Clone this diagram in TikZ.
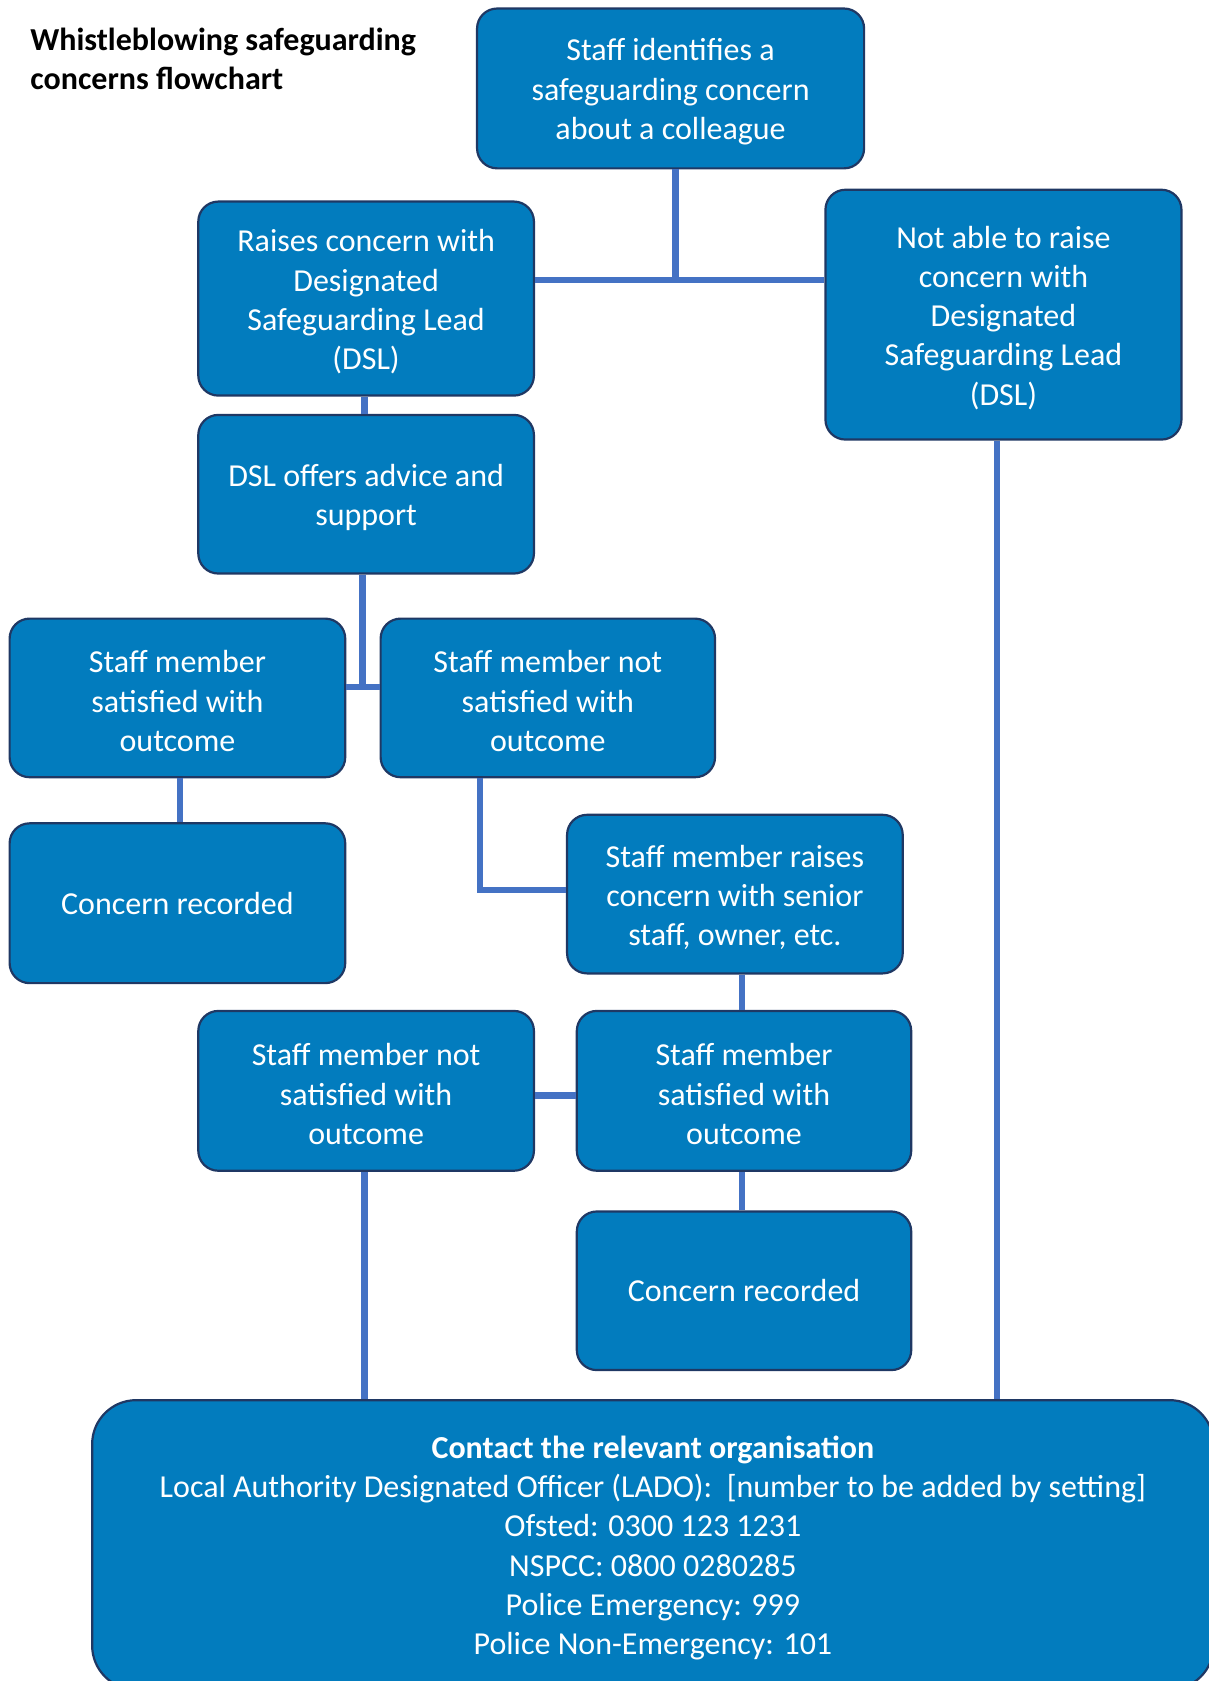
\documentclass[tikz,border=0pt]{standalone}
\usepackage{fontspec}
\setmainfont{Carlito}
\definecolor{boxblue}{HTML}{027CBE}
\definecolor{boxedge}{HTML}{1F3864}
\definecolor{linkblue}{HTML}{4472C4}
\tikzset{
    flowbox/.style={draw=boxedge, line width=1.1pt, fill=boxblue, rounded corners=10pt,
        text=white, align=center, inner sep=0pt, font=\fontsize{16}{19.6}\selectfont},
    textdrop/.style={execute at begin node={\setbox0=\hbox\bgroup},
        execute at end node={\egroup\ht0=\dimexpr\ht0+3.2pt\relax\box0}},
    link/.style={draw=linkblue, line width=3.2pt},
}

\begin{document}
\begin{tikzpicture}[x=0.536pt, y=-0.536pt]
    \useasboundingbox (0,0) rectangle (1127,1568);
    \node[anchor=north west, align=left, inner sep=0pt, font=\fontsize{16}{19.4}\selectfont\bfseries] (title) at (28,26) {Whistleblowing safeguarding\\concerns flowchart};
    % boxes
    \node[flowbox, textdrop, minimum width=193.5pt, minimum height=79.9pt] (identify) at (625.5,82.5) {Staff identifies a\\safeguarding concern\\about a colleague};
    \node[flowbox, textdrop, minimum width=167.8pt, minimum height=97pt] (raise) at (341.5,278.5) {Raises concern with\\Designated\\Safeguarding Lead\\(DSL)};
    \node[flowbox, textdrop, minimum width=178pt, minimum height=124.9pt] (notable) at (936,293.5) {Not able to raise\\concern with\\Designated\\Safeguarding Lead\\(DSL)};
    \node[flowbox, textdrop, minimum width=167.8pt, minimum height=79.3pt] (advice) at (341.5,461) {DSL offers advice and\\support};
    \node[flowbox, textdrop, minimum width=167.8pt, minimum height=79.3pt] (sat) at (165.5,651) {Staff member\\satisfied with\\outcome};
    \node[flowbox, textdrop, minimum width=167.2pt, minimum height=79.3pt] (notsat) at (511,651) {Staff member not\\satisfied with\\outcome};
    \node[flowbox, minimum width=167.8pt, minimum height=79.9pt] (recorded) at (165.5,842.5) {Concern recorded};
    \node[flowbox, textdrop, minimum width=167.8pt, minimum height=79.3pt] (senior) at (685.5,834) {Staff member raises\\concern with senior\\staff, owner, etc.};
    \node[flowbox, textdrop, minimum width=167.8pt, minimum height=79.9pt] (notsattwo) at (341.5,1017.5) {Staff member not\\satisfied with\\outcome};
    \node[flowbox, textdrop, minimum width=167.2pt, minimum height=79.9pt] (sattwo) at (694,1017.5) {Staff member\\satisfied with\\outcome};
    \node[flowbox, minimum width=167.2pt, minimum height=79.3pt] (recordedtwo) at (694,1204) {Concern recorded};
    \node[flowbox, textdrop, rounded corners=22pt, minimum width=560.7pt, minimum height=144.7pt] (contact) at (609,1441) {\textbf{Contact the relevant organisation}\\Local Authority Designated Officer (LADO):\ \ [number to be added by setting]\\Ofsted: 0300 123 1231\\NSPCC: 0800 0280285\\Police Emergency: 999\\Police Non-Emergency: 101};
    % connectors
    \coordinate (split) at (630,261);
    \coordinate (dslsplit) at (338,641);
    \coordinate (bend) at (448,830);
    \draw[link] (identify.south -| split) -- (split);
    \draw[link] (raise.east |- split) -- (notable.west |- split);
    \draw[link] (raise.south -| 340,0) -- (advice.north -| 340,0);
    \draw[link] (advice.south -| dslsplit) -- (dslsplit);
    \draw[link] (sat.east |- dslsplit) -- (notsat.west |- dslsplit);
    \draw[link] (sat.south -| 168,0) -- (recorded.north -| 168,0);
    \draw[link] (notsat.south -| bend) -- (bend) -- (senior.west |- bend);
    \draw[link] (senior.south -| 692,0) -- (sattwo.north -| 692,0);
    \draw[link] (notsattwo.east |- 0,1022) -- (sattwo.west |- 0,1022);
    \draw[link] (sattwo.south -| 692,0) -- (recordedtwo.north -| 692,0);
    \draw[link] (notsattwo.south -| 340,0) -- (contact.north -| 340,0);
    \draw[link] (notable.south -| 930,0) -- (contact.north -| 930,0);
\end{tikzpicture}
\end{document}
